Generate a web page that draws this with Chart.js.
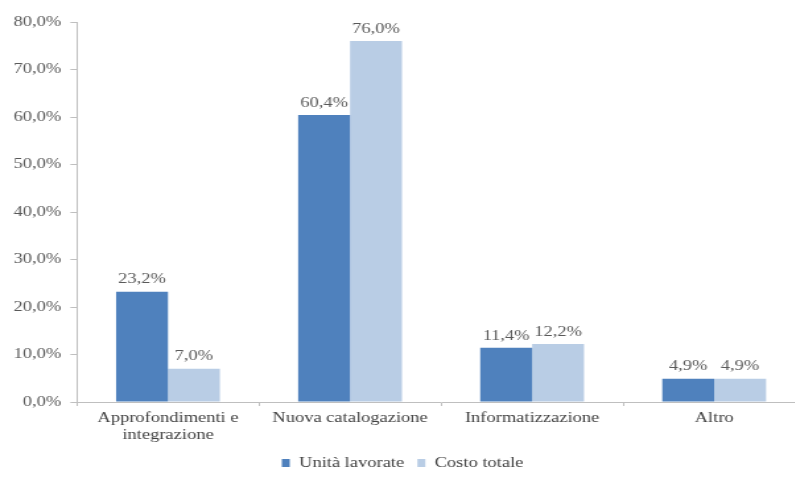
<!DOCTYPE html>
<html>
<head>
<meta charset="utf-8">
<script src="https://cdn.jsdelivr.net/npm/chart.js@4/dist/chart.umd.min.js"></script>
<style>
  html, body { margin: 0; padding: 0; background: #fff; overflow: hidden; }
  #wrap { position: absolute; left: 0; top: 0; width: 627px; height: 486px;
          transform: scaleX(1.32); transform-origin: 0 0; }
</style>
</head>
<body>
<div id="wrap"><canvas id="c"></canvas></div>
<script>
const categories = [["Approfondimenti e", "integrazione"], "Nuova catalogazione", "Informatizzazione", "Altro"];
const seriesNames = ["Unità lavorate", "Costo totale"];
const unitaLavorate = [23.2, 60.4, 11.4, 4.9];
const costoTotale = [7.0, 76.0, 12.2, 4.9];
const yTicks = [0, 10, 20, 30, 40, 50, 60, 70, 80];

const FONT = "'Liberation Serif', 'Times New Roman', serif";
const fmt = v => v.toFixed(1).replace('.', ',') + '%';

// Writes each bar's value just above its top
const valueLabels = {
  id: 'valueLabels',
  afterDatasetsDraw(chart) {
    const ctx = chart.ctx;
    ctx.save();
    ctx.font = `14px ${FONT}`;
    ctx.fillStyle = '#595959';
    ctx.textAlign = 'center';
    ctx.textBaseline = 'bottom';
    chart.data.datasets.forEach((ds, i) => {
      chart.getDatasetMeta(i).data.forEach((bar, j) => {
        ctx.fillText(fmt(ds.data[j]), bar.x, bar.y - 5);
      });
    });
    ctx.restore();
  }
};

new Chart(document.getElementById('c'), {
  type: 'bar',
  data: {
    labels: categories,
    datasets: [
      { label: seriesNames[0], data: unitaLavorate, backgroundColor: '#4F81BD', borderWidth: 0 },
      { label: seriesNames[1], data: costoTotale, backgroundColor: '#B9CDE5', borderWidth: 0 }
    ]
  },
  options: {
    responsive: true,
    maintainAspectRatio: false,
    animation: false,
    layout: { padding: { top: 22, left: 0, right: 17, bottom: 6 } },
    datasets: { bar: { categoryPercentage: 0.57, barPercentage: 1.0 } },
    plugins: {
      legend: {
        position: 'bottom',
        labels: {
          font: { family: FONT, size: 14 },
          color: '#404040',
          boxWidth: 6,
          boxHeight: 8,
          padding: 10
        }
      },
      tooltip: { enabled: false },
      title: { display: false }
    },
    scales: {
      x: {
        grid: { display: true, drawOnChartArea: false, drawTicks: true, tickLength: 4, color: '#bfbfbf', offset: true },
        border: { color: '#bfbfbf' },
        ticks: { font: { family: FONT, size: 14 }, color: '#404040', padding: 4, maxRotation: 0, autoSkip: false },
        afterFit(scale) { scale.height = 44; }
      },
      y: {
        min: 0,
        max: 80,
        afterBuildTicks(scale) { scale.ticks = yTicks.map(v => ({ value: v })); },
        grid: { display: true, drawOnChartArea: false, drawTicks: true, tickLength: 5, color: '#bfbfbf' },
        border: { color: '#bfbfbf' },
        ticks: { font: { family: FONT, size: 14 }, color: '#595959', padding: 7, callback: v => fmt(v) },
        afterFit(scale) { scale.width = 58.3; }
      }
    }
  },
  plugins: [valueLabels]
});
</script>
</body>
</html>
